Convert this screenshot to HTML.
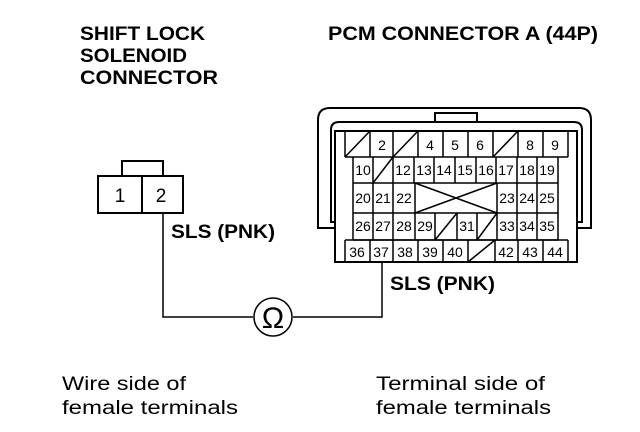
<!DOCTYPE html>
<html><head><meta charset="utf-8"><style>
html,body{margin:0;padding:0;background:#fff;}
svg{display:block;}
text{font-family:"Liberation Sans",Arial,sans-serif;fill:#000;}
.b{font-weight:bold;font-size:19px;}
.n{font-size:19px;}
.c{font-size:14px;text-anchor:middle;}
</style></head><body>
<svg width="640" height="432" viewBox="0 0 640 432" xmlns="http://www.w3.org/2000/svg">
<g fill="none" stroke="#000" stroke-width="2">
<path d="M335 228 H318 V120 Q318 108 330 108 H579 Q591 108 591 120 V228 H577"/>
<path d="M335 222 H331 V130 Q331 122 339 122 H574 Q582 122 582 130 V222 H577"/>
<rect x="435" y="113" width="42" height="9"/>
<rect x="335" y="131" width="242" height="131"/>
</g>
<g fill="none" stroke="#000" stroke-width="1.5">
<path d="M345 131 V157 M370 131 V157 M393 131 V157 M418 131 V157 M443 131 V157 M468 131 V157 M493 131 V157 M518 131 V157 M543 131 V157 M568 131 V157 M345 157 H568"/>
<path d="M345 157 L370 131 M393 157 L418 131 M493 157 L518 131"/>
<path d="M353 157 V240 M373 157 V240 M393 157 V240 M558 157 V240 M353 183 H558 M353 213 H558 M353 240 H558"/>
<path d="M414 157 V183 M434 157 V183 M455 157 V183 M476 157 V183 M496 157 V183 M517 157 V183 M537 157 V183"/>
<path d="M373 183 L393 157"/>
<path d="M415 183 V213 M497 183 V213 M517 183 V213 M537 183 V213 M415 183 L497 213 M415 213 L497 183"/>
<path d="M415 213 V240 M435 213 V240 M457 213 V240 M477 213 V240 M497 213 V240 M517 213 V240 M537 213 V240 M435 240 L457 213 M477 240 L497 213"/>
<path d="M345 240 V262 M370 240 V262 M393 240 V262 M418 240 V262 M443 240 V262 M468 240 V262 M495 240 V262 M518 240 V262 M543 240 V262 M568 240 V262 M345 240 H568"/>
<path d="M468 262 L495 240"/>
</g>
<g>
<text x="382" y="150" class="c">2</text><text x="430" y="150" class="c">4</text><text x="455" y="150" class="c">5</text><text x="480" y="150" class="c">6</text><text x="530" y="150" class="c">8</text><text x="555" y="150" class="c">9</text>
<text x="363" y="175" class="c">10</text><text x="403" y="175" class="c">12</text><text x="424" y="175" class="c">13</text><text x="444" y="175" class="c">14</text><text x="465" y="175" class="c">15</text><text x="486" y="175" class="c">16</text><text x="506" y="175" class="c">17</text><text x="527" y="175" class="c">18</text><text x="547" y="175" class="c">19</text>
<text x="363" y="203" class="c">20</text><text x="383" y="203" class="c">21</text><text x="404" y="203" class="c">22</text><text x="507" y="203" class="c">23</text><text x="527" y="203" class="c">24</text><text x="547" y="203" class="c">25</text>
<text x="363" y="231" class="c">26</text><text x="383" y="231" class="c">27</text><text x="404" y="231" class="c">28</text><text x="425" y="231" class="c">29</text><text x="467" y="231" class="c">31</text><text x="507" y="231" class="c">33</text><text x="527" y="231" class="c">34</text><text x="547" y="231" class="c">35</text>
<text x="357" y="257" class="c">36</text><text x="381" y="257" class="c">37</text><text x="405" y="257" class="c">38</text><text x="430" y="257" class="c">39</text><text x="455" y="257" class="c">40</text><text x="506" y="257" class="c">42</text><text x="530" y="257" class="c">43</text><text x="555" y="257" class="c">44</text>
</g>
<g fill="none" stroke="#000" stroke-width="2">
<rect x="98" y="176" width="85" height="37"/>
<path d="M142 176 V213"/>
<path d="M122 176 V161 H163 V176"/>
<path d="M163 213 V317 H253 M293 317 H382 V262" stroke-width="1.5"/>
<circle cx="273" cy="317" r="19" stroke-width="1.5"/>
</g>
<text x="120" y="202" font-size="19" text-anchor="middle">1</text>
<text x="161" y="202" font-size="19" text-anchor="middle">2</text>
<text x="273" y="328" font-size="30" text-anchor="middle">Ω</text>
<text class="b" x="80" y="40" textLength="125" lengthAdjust="spacingAndGlyphs">SHIFT LOCK</text>
<text class="b" x="80" y="62" textLength="107" lengthAdjust="spacingAndGlyphs">SOLENOID</text>
<text class="b" x="80" y="84" textLength="138" lengthAdjust="spacingAndGlyphs">CONNECTOR</text>
<text class="b" x="328" y="40" textLength="270" lengthAdjust="spacingAndGlyphs">PCM CONNECTOR A (44P)</text>
<text class="b" x="171" y="238" textLength="104" lengthAdjust="spacingAndGlyphs">SLS (PNK)</text>
<text class="b" x="390" y="290" textLength="105" lengthAdjust="spacingAndGlyphs">SLS (PNK)</text>
<text class="n" x="62" y="390" textLength="124" lengthAdjust="spacingAndGlyphs">Wire side of</text>
<text class="n" x="62" y="414" textLength="176" lengthAdjust="spacingAndGlyphs">female terminals</text>
<text class="n" x="376" y="390" textLength="169" lengthAdjust="spacingAndGlyphs">Terminal side of</text>
<text class="n" x="376" y="414" textLength="175" lengthAdjust="spacingAndGlyphs">female terminals</text>
</svg>
</body></html>
